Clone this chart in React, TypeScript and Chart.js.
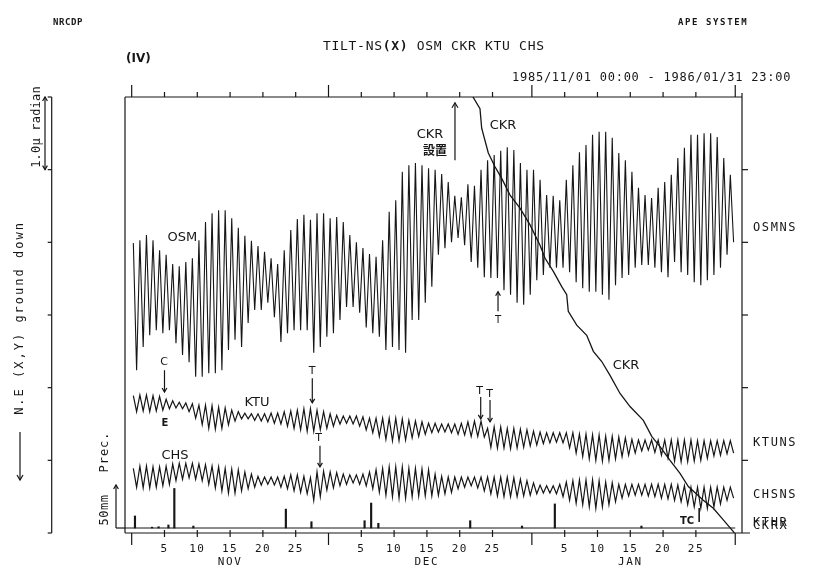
import React, { useEffect, useRef } from "react";
import { Chart, registerables } from "chart.js";

Chart.register(...registerables);

// ---------------- data (μrad, days from 1985/11/01 00:00) ----------------
const DAY_COUNT = 92;

// OSM daily upper / lower envelope (μrad)
const osmHigh = [
  3.99, 4.03, 4.1, 4.03, 3.89, 3.83, 3.7, 3.67, 3.73, 3.78,
  4.03, 4.28, 4.4, 4.44, 4.44, 4.33, 4.2, 4.09, 4.02, 3.95,
  3.87, 3.78, 3.7, 3.89, 4.17, 4.32, 4.38, 4.31, 4.4, 4.4,
  4.33, 4.35, 4.28, 4.1, 4.0, 3.92, 3.84, 3.8, 4.03, 4.42,
  4.58, 4.97, 5.06, 5.09, 5.06, 5.02, 5.0, 4.94, 4.83, 4.64,
  4.62, 4.8, 4.78, 5.0, 5.13, 5.2, 5.26, 5.31, 5.27, 5.09,
  5.0, 5.0, 4.86, 4.65, 4.64, 4.58, 4.86, 5.06, 5.24, 5.34,
  5.48, 5.52, 5.52, 5.44, 5.23, 5.13, 4.97, 4.75, 4.65, 4.61,
  4.75, 4.83, 4.93, 5.16, 5.3, 5.48, 5.48, 5.5, 5.5, 5.45,
  5.16, 4.93,
];
const osmLow = [
  2.24, 2.56, 2.72, 2.79, 2.75, 2.79, 2.61, 2.45, 2.35, 2.15,
  2.15, 2.2, 2.2, 2.24, 2.52, 2.66, 2.56, 2.89, 3.07, 3.07,
  3.17, 2.97, 2.63, 2.75, 2.79, 2.79, 2.79, 2.48, 2.56, 2.7,
  2.75, 2.93, 3.11, 3.11, 3.03, 2.83, 2.75, 2.7, 2.52, 2.56,
  2.52, 2.48, 2.93, 2.93, 3.17, 3.39, 3.83, 3.92, 4.0, 4.06,
  3.96, 3.73, 3.65, 3.52, 3.51, 3.51, 3.34, 3.28, 3.17, 3.14,
  3.28, 3.48, 3.55, 3.65, 3.65, 3.65, 3.59, 3.45, 3.37, 3.32,
  3.32, 3.28, 3.21, 3.41, 3.51, 3.55, 3.65, 3.69, 3.69, 3.65,
  3.59, 3.52, 3.73, 3.59, 3.55, 3.45, 3.41, 3.48, 3.55, 3.65,
  3.83, 4.0,
];

// KTU daily envelope
const ktuHigh = [
  1.89, 1.9, 1.9, 1.89, 1.88, 1.84, 1.82, 1.8, 1.79, 1.78,
  1.76, 1.76, 1.75, 1.73, 1.72, 1.69, 1.67, 1.65, 1.64, 1.64,
  1.64, 1.65, 1.65, 1.67, 1.68, 1.69, 1.71, 1.71, 1.69, 1.67,
  1.64, 1.62, 1.61, 1.61, 1.61, 1.6, 1.58, 1.58, 1.58, 1.58,
  1.58, 1.57, 1.55, 1.54, 1.53, 1.51, 1.51, 1.5, 1.5, 1.5,
  1.51, 1.53, 1.54, 1.54, 1.44, 1.46, 1.46, 1.44, 1.44, 1.43,
  1.42, 1.4, 1.39, 1.38, 1.38, 1.38, 1.38, 1.38, 1.36, 1.36,
  1.35, 1.35, 1.33, 1.33, 1.32, 1.31, 1.29, 1.28, 1.28, 1.28,
  1.28, 1.28, 1.28, 1.28, 1.28, 1.28, 1.27, 1.27, 1.27, 1.27,
  1.27, 1.27,
];
const ktuLow = [
  1.67, 1.68, 1.67, 1.68, 1.69, 1.71, 1.72, 1.71, 1.67, 1.58,
  1.49, 1.44, 1.43, 1.44, 1.49, 1.54, 1.57, 1.57, 1.55, 1.54,
  1.53, 1.51, 1.5, 1.47, 1.44, 1.42, 1.4, 1.4, 1.42, 1.44,
  1.47, 1.5, 1.51, 1.5, 1.47, 1.42, 1.38, 1.33, 1.29, 1.27,
  1.27, 1.28, 1.31, 1.33, 1.36, 1.38, 1.39, 1.39, 1.38, 1.36,
  1.35, 1.33, 1.33, 1.32, 1.18, 1.17, 1.17, 1.16, 1.17, 1.18,
  1.2, 1.21, 1.23, 1.24, 1.25, 1.24, 1.17, 1.1, 1.05, 1.02,
  1.0, 0.99, 1.0, 1.02, 1.05, 1.07, 1.1, 1.13, 1.14, 1.11,
  1.07, 1.03, 0.99, 0.98, 0.98, 0.99, 1.0, 1.03, 1.06, 1.07,
  1.09, 1.1,
];

// CHS daily envelope
const chsHigh = [
  0.89, 0.92, 0.92, 0.91, 0.91, 0.92, 0.95, 0.96, 0.96, 0.96,
  0.95, 0.94, 0.92, 0.91, 0.89, 0.88, 0.87, 0.84, 0.81, 0.78,
  0.77, 0.77, 0.77, 0.78, 0.8, 0.8, 0.78, 0.76, 0.84, 0.85,
  0.84, 0.83, 0.81, 0.8, 0.8, 0.81, 0.84, 0.87, 0.89, 0.91,
  0.91, 0.91, 0.89, 0.89, 0.88, 0.87, 0.81, 0.78, 0.77, 0.77,
  0.77, 0.77, 0.77, 0.77, 0.77, 0.77, 0.77, 0.77, 0.76, 0.74,
  0.72, 0.69, 0.66, 0.65, 0.65, 0.67, 0.7, 0.72, 0.73, 0.73,
  0.73, 0.72, 0.7, 0.69, 0.67, 0.67, 0.67, 0.67, 0.67, 0.67,
  0.67, 0.67, 0.67, 0.66, 0.65, 0.63, 0.63, 0.63, 0.63, 0.63,
  0.63, 0.63,
];
const chsLow = [
  0.63, 0.62, 0.62, 0.63, 0.65, 0.67, 0.72, 0.74, 0.76, 0.74,
  0.72, 0.67, 0.62, 0.58, 0.55, 0.55, 0.58, 0.61, 0.63, 0.66,
  0.67, 0.66, 0.63, 0.61, 0.58, 0.56, 0.54, 0.45, 0.5, 0.59,
  0.62, 0.65, 0.67, 0.69, 0.67, 0.65, 0.61, 0.56, 0.52, 0.5,
  0.48, 0.48, 0.5, 0.51, 0.51, 0.51, 0.52, 0.54, 0.56, 0.61,
  0.63, 0.65, 0.62, 0.58, 0.54, 0.51, 0.5, 0.5, 0.5, 0.51,
  0.52, 0.54, 0.55, 0.55, 0.54, 0.5, 0.45, 0.41, 0.39, 0.36,
  0.34, 0.36, 0.39, 0.43, 0.48, 0.51, 0.52, 0.52, 0.51, 0.5,
  0.48, 0.47, 0.45, 0.43, 0.39, 0.36, 0.34, 0.34, 0.36, 0.4,
  0.45, 0.48,
];

// CKR trace (installed late December)
const ckrDays = [
  51.83, 53.09, 53.35, 54.36, 55.38, 56.4, 57.67, 59.19, 60.72, 62.24,
  63.01, 64.27, 65.55, 66.31, 66.55, 67.84, 69.36, 70.37, 71.65, 72.91,
  74.44, 75.96, 77.99, 79.27, 80.53, 82.06, 83.58, 84.85, 87.13, 88.66,
  90.18, 91.71, 92.0,
];
const ckrValues = [
  6.03, 5.84, 5.57, 5.23, 5.04, 4.88, 4.65, 4.47, 4.24, 3.96,
  3.78, 3.6, 3.39, 3.28, 3.05, 2.86, 2.72, 2.5, 2.36, 2.17,
  1.92, 1.74, 1.55, 1.33, 1.19, 1.0, 0.82, 0.64, 0.45, 0.34,
  0.18, 0.02, -0.02,
];

// precipitation (mm)
const precipDays = [0.5, 3.1, 4.1, 5.6, 6.5, 9.4, 23.5, 27.4, 35.5, 36.5, 37.6, 51.6, 59.5, 64.5, 77.7];
const precipMm = [14, 1, 1.5, 3.5, 46, 2.3, 22, 7.3, 8.5, 29, 5.5, 8.5, 2.3, 28, 2.3];

// axis labels
const monthStarts = [0, 30, 61, 92];
const monthNames = ["NOV", "DEC", "JAN"];
const dayLabels = [5, 10, 15, 20, 25];
const yTicks = [0, 1, 2, 3, 4, 5, 6];
const rightLabels = ["OSMNS", "KTUNS", "CHSNS", "KTHR", "CKRX"];
const rightLabelValues = [4.2, 1.24, 0.52, 0.14, 0.1];

// ---------------- drawing helpers ----------------
const INK = "#161616";
const MONO = '"DejaVu Sans Mono", monospace';
const SANS = '"DejaVu Sans", sans-serif';

function tidalPoints(high: number[], low: number[]) {
  const pts: { x: number; y: number }[] = [];
  for (let i = 0; i < high.length; i++) {
    pts.push({ x: i + 0.25, y: high[i] });
    pts.push({ x: i + 0.75, y: low[i] });
  }
  return pts;
}

const decorPlugin = {
  id: "decor",
  afterDatasetsDraw(chart: any) {
    const ctx: CanvasRenderingContext2D = chart.ctx;
    const xs = chart.scales.x;
    const ys = chart.scales.y;
    const yp = chart.scales.y2;
    const X = (v: number) => xs.getPixelForValue(v);
    const Y = (v: number) => ys.getPixelForValue(v);
    const { left, right, top, bottom } = chart.chartArea;

    ctx.save();
    ctx.strokeStyle = INK;
    ctx.fillStyle = INK;
    ctx.lineWidth = 1.2;

    const seg = (x1: number, y1: number, x2: number, y2: number) => {
      ctx.beginPath();
      ctx.moveTo(x1, y1);
      ctx.lineTo(x2, y2);
      ctx.stroke();
    };
    const text = (s: string, x: number, y: number, font: string, align: CanvasTextAlign = "center", spacing = 0) => {
      ctx.font = font;
      (ctx as any).letterSpacing = spacing + "px";
      ctx.textAlign = align;
      ctx.textBaseline = "middle";
      ctx.fillText(s, x, y);
      (ctx as any).letterSpacing = "0px";
    };
    const vtext = (s: string, x: number, y: number, font: string, spacing = 0) => {
      ctx.save();
      ctx.translate(x, y);
      ctx.rotate(-Math.PI / 2);
      text(s, 0, 0, font, "center", spacing);
      ctx.restore();
    };
    const head = (x: number, y: number, dir: number, h = 4) => {
      ctx.beginPath();
      ctx.moveTo(x - h * 0.6, y - dir * h);
      ctx.lineTo(x, y);
      ctx.lineTo(x + h * 0.6, y - dir * h);
      ctx.stroke();
    };
    const arrow = (x: number, y1: number, y2: number, h = 4) => {
      seg(x, y1, x, y2);
      head(x, y2, Math.sign(y2 - y1), h);
    };

    // frame
    seg(left, top, right, top);
    seg(left, top, left, bottom);
    seg(right, top - 4, right, bottom);
    seg(left, bottom, right + 8, bottom);
    yTicks.forEach((k) => {
      if (k > 0 && k < 6) seg(right, Y(k), right + 6, Y(k));
    });

    // precipitation baseline
    const pb = yp.getPixelForValue(0);
    ctx.lineWidth = 1;
    seg(left, pb, X(DAY_COUNT), pb);
    ctx.lineWidth = 1.2;

    // time axis ticks & labels
    monthStarts.forEach((m) => {
      seg(X(m), top, X(m), top - 12);
      seg(X(m), bottom, X(m), bottom + 12);
    });
    monthNames.forEach((name, i) => {
      dayLabels.forEach((d) => {
        const v = monthStarts[i] + d;
        seg(X(v), top, X(v), top - 5);
        seg(X(v), bottom - 3, X(v), bottom + 4);
        text(String(d), X(v), 549, `11px ${MONO}`, "center", 1.4);
      });
      text(name, X(monthStarts[i] + 15), 562, `11px ${MONO}`, "center", 1.6);
    });

    // right-side station labels
    rightLabels.forEach((s, i) => {
      text(s, 753, Y(rightLabelValues[i]), `12px ${MONO}`, "left", 1.6);
    });

    // header
    text("NRCDP", 53, 23, `bold 9px ${MONO}`, "left", 0.6);
    text("APE SYSTEM", 678, 23, `bold 9px ${MONO}`, "left", 1.6);
    text("(IV)", 126, 59, `bold 12px ${SANS}`, "left");
    {
      let x = 323;
      const parts: [string, string][] = [
        ["TILT-NS", `13px ${MONO}`],
        ["(X)", `bold 13px ${MONO}`],
        [" OSM CKR KTU CHS", `13px ${MONO}`],
      ];
      parts.forEach(([s, f]) => {
        ctx.font = f;
        (ctx as any).letterSpacing = "0.7px";
        const w = ctx.measureText(s).width;
        text(s, x, 47, f, "left", 0.7);
        x += w;
      });
    }
    text("1985/11/01 00:00 - 1986/01/31 23:00", 512, 78, `12px ${MONO}`, "left", 0.75);

    // left scale
    const sx = 51.7;
    seg(sx, Y(6), sx, Y(0));
    yTicks.forEach((k) => seg(sx - 4, Y(k), sx, Y(k)));
    seg(45, Y(6), 45, Y(5));
    head(45, Y(6), -1, 4);
    head(45, Y(5), 1, 4);
    vtext("1.0\u03bc radian", 37, 127, `12px ${MONO}`, 0.2);
    vtext("N.E (X,Y) ground down", 20, 318, `12px ${MONO}`, 2);
    arrow(20, 432, 480, 5);
    vtext("Prec.", 105, 452, `12px ${MONO}`, 1);
    vtext("50mm", 105, 510, `12px ${MONO}`, 0.5);
    arrow(116, pb, yp.getPixelForValue(50), 4);
    seg(116, pb, left, pb);

    // in-plot annotations (data coordinates)
    const F = `13px ${SANS}`;
    const f = `11px ${SANS}`;
    text("OSM", X(7.74), Y(4.07), F);
    text("KTU", X(19.1), Y(1.8), F);
    text("CHS", X(6.6), Y(1.06), F);
    text("CKR", X(56.6), Y(5.6), F);
    text("CKR", X(75.35), Y(2.31), F);
    text("CKR", X(45.47), Y(5.48), F);
    text("\u8a2d\u7f6e", X(46.24), Y(5.27), `bold 12px "Noto Sans CJK JP"`);
    arrow(X(49.28), Y(5.13), Y(5.92), 5);

    text("C", X(4.92), Y(2.35), f);
    arrow(X(5.0), Y(2.24), Y(1.94));
    text("E", X(5.08), Y(1.51), `bold 10px ${SANS}`);
    text("T", X(27.5), Y(2.23), f);
    arrow(X(27.53), Y(2.13), Y(1.79));
    text("T", X(28.5), Y(1.31), f);
    arrow(X(28.7), Y(1.2), Y(0.91));
    text("T", X(55.84), Y(2.92), `10px ${SANS}`);
    arrow(X(55.84), Y(3.05), Y(3.32));
    text("T", X(53.05), Y(1.95), f);
    arrow(X(53.2), Y(1.87), Y(1.57));
    text("T", X(54.54), Y(1.91), f);
    arrow(X(54.62), Y(1.83), Y(1.53));
    text("TC", X(84.65), Y(0.165), `bold 10px ${SANS}`);
    ctx.lineWidth = 1.6;
    seg(X(86.5), Y(0.344), X(86.5), Y(0.151));

    ctx.restore();
  },
};

export default function App() {
  const canvasRef = useRef<HTMLCanvasElement | null>(null);

  useEffect(() => {
    if (!canvasRef.current) return;
    const line = (label: string, data: any[], width: number) => ({
      type: "line" as const,
      label,
      data,
      borderColor: INK,
      borderWidth: width,
      pointRadius: 0,
      tension: 0,
      fill: false,
      xAxisID: "x",
      yAxisID: "y",
    });
    const chart = new Chart(canvasRef.current, {
      type: "line",
      data: {
        datasets: [
          {
            type: "bar" as const,
            label: "Prec.",
            data: precipDays.map((d, i) => ({ x: d, y: precipMm[i] })),
            backgroundColor: INK,
            borderWidth: 0,
            barThickness: 1.5,
            xAxisID: "x",
            yAxisID: "y2",
          } as any,
          line("OSM", tidalPoints(osmHigh, osmLow), 1.1),
          line("KTU", tidalPoints(ktuHigh, ktuLow), 1.2),
          line("CHS", tidalPoints(chsHigh, chsLow), 1.2),
          line("CKR", ckrDays.map((d, i) => ({ x: d, y: ckrValues[i] })), 1.3),
        ],
      },
      options: {
        responsive: false,
        animation: false,
        devicePixelRatio: 1,
        layout: { padding: { left: 125, right: 84, top: 97, bottom: 41 } },
        plugins: { legend: { display: false }, tooltip: { enabled: false } },
        scales: {
          x: { type: "linear", min: -1.02, max: 93.03, display: false, offset: false },
          y: { type: "linear", min: 0, max: 6, display: false },
          y2: { type: "linear", min: -5.8, max: 501.2, display: false },
        },
      } as any,
      plugins: [decorPlugin],
    });
    return () => chart.destroy();
  }, []);

  return (
    <div style={{ position: "absolute", left: 0, top: 0, width: 826, height: 574, background: "#fff" }}>
      <canvas ref={canvasRef} width={826} height={574} style={{ display: "block" }} />
    </div>
  );
}
